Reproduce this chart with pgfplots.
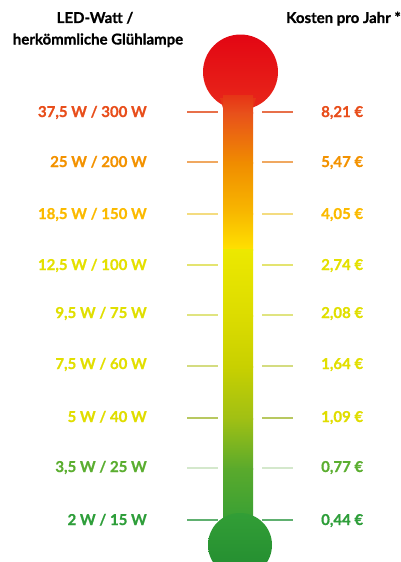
\documentclass[border=0pt]{standalone}
\usepackage{pgfplots}
\pgfplotsset{compat=1.18}
\usepackage{fontspec}
\setmainfont{Lato}[BoldFeatures={FakeBold=0.8}]
\definecolor{cA}{HTML}{E84E1B}
\definecolor{cB}{HTML}{F39200}
\definecolor{cC}{HTML}{FBBA00}
\definecolor{cD}{HTML}{E4E000}
\definecolor{cE}{HTML}{E0DF00}
\definecolor{cF}{HTML}{E2DF00}
\definecolor{cG}{HTML}{E0DD00}
\definecolor{cH}{HTML}{5BAE30}
\definecolor{cI}{HTML}{2E9E3A}
\definecolor{lA}{HTML}{E8704A}
\definecolor{lB}{HTML}{F0A860}
\definecolor{lC}{HTML}{F4DC80}
\definecolor{lD}{HTML}{E4E470}
\definecolor{lE}{HTML}{E0E480}
\definecolor{lF}{HTML}{D4DC80}
\definecolor{lG}{HTML}{B8C860}
\definecolor{lH}{HTML}{D4E8CC}
\definecolor{lI}{HTML}{60B070}
% gradient stops
\definecolor{g0}{HTML}{E30613}
\definecolor{g1}{HTML}{E8281A}
\definecolor{g2}{HTML}{E63416}
\definecolor{g3}{HTML}{E8501B}
\definecolor{g4}{HTML}{F08C00}
\definecolor{g5}{HTML}{F8B900}
\definecolor{g6}{HTML}{FFE100}
\definecolor{g7}{HTML}{ECE800}
\definecolor{g8}{HTML}{DCDC00}
\definecolor{g9}{HTML}{C8D000}
\definecolor{g10}{HTML}{A0C014}
\definecolor{g11}{HTML}{5AAA2C}
\definecolor{g12}{HTML}{329E36}
\definecolor{g13}{HTML}{228C30}
\newcommand\row[6]{%
  \addplot[draw=#6, line width=1.5pt] coordinates {(187,#1) (218,#1)};
  \addplot[draw=#6, line width=1.5pt] coordinates {(262,#1) (293,#1)};
  \node[anchor=base east, text=#5, inner sep=0pt] at (axis cs:147,#2) {\bfseries #3};
  \node[anchor=base west, text=#5, inner sep=0pt] at (axis cs:321,#2) {\bfseries #4};
}
\begin{document}
\begin{tikzpicture}
\begin{axis}[
  scale only axis, width=401pt, height=562pt,
  xmin=0, xmax=401, ymin=0, ymax=562, y dir=reverse,
  axis line style={draw=none}, xtick=\empty, ytick=\empty,
  clip mode=global,
  font=\fontsize{15}{18}\selectfont,
]
% top bulb
\shade[top color=g0, bottom color=g1] (axis cs:240.5,72) circle[radius=37.5pt];
\fill[g2] (axis cs:220,98) -- (axis cs:256,98) -- (axis cs:253,108) -- (axis cs:223,108) -- cycle;
% tube segments
\shade[top color=g2, bottom color=g3] (axis cs:223,95) rectangle (axis cs:253,113);
\shade[top color=g3, bottom color=g4] (axis cs:223,112.5) rectangle (axis cs:253,163);
\shade[top color=g4, bottom color=g5] (axis cs:223,162.5) rectangle (axis cs:253,214);
\shade[top color=g5, bottom color=g6] (axis cs:223,213.5) rectangle (axis cs:253,250);
\shade[top color=g7, bottom color=g8] (axis cs:223,249.5) rectangle (axis cs:253,316);
\shade[top color=g8, bottom color=g9] (axis cs:223,315.5) rectangle (axis cs:253,367);
\shade[top color=g9, bottom color=g10] (axis cs:223,366.5) rectangle (axis cs:253,419);
\shade[top color=g10, bottom color=g11] (axis cs:223,418.5) rectangle (axis cs:253,469);
\shade[top color=g11, bottom color=g12] (axis cs:223,468.5) rectangle (axis cs:253,530);
% bottom bulb
\shade[top color=g12, bottom color=g13] (axis cs:240,545) circle[radius=32pt];
% headers
\node[anchor=base, inner sep=0pt] at (axis cs:95,23) {\bfseries LED-Watt /};
\node[anchor=base, inner sep=0pt] at (axis cs:98,44.5) {\bfseries herkömmliche Glühlampe};
\node[anchor=base, inner sep=0pt] at (axis cs:343.5,23) {\bfseries Kosten pro Jahr *};
% rows
\row{112}{117}{37,5 W / 300 W}{8,21 €}{cA}{lA}
\row{162}{167}{25 W / 200 W}{5,47 €}{cB}{lB}
\row{214}{219}{18,5 W / 150 W}{4,05 €}{cC}{lC}
\row{265}{270}{12,5 W / 100 W}{2,74 €}{cD}{lD}
\row{315}{318}{9,5 W / 75 W}{2,08 €}{cE}{lE}
\row{366}{369}{7,5 W / 60 W}{1,64 €}{cF}{lF}
\row{418}{422}{5 W / 40 W}{1,09 €}{cG}{lG}
\row{468}{472}{3,5 W / 25 W}{0,77 €}{cH}{lH}
\row{520}{525}{2 W / 15 W}{0,44 €}{cI}{lI}
\end{axis}
\end{tikzpicture}
\end{document}
